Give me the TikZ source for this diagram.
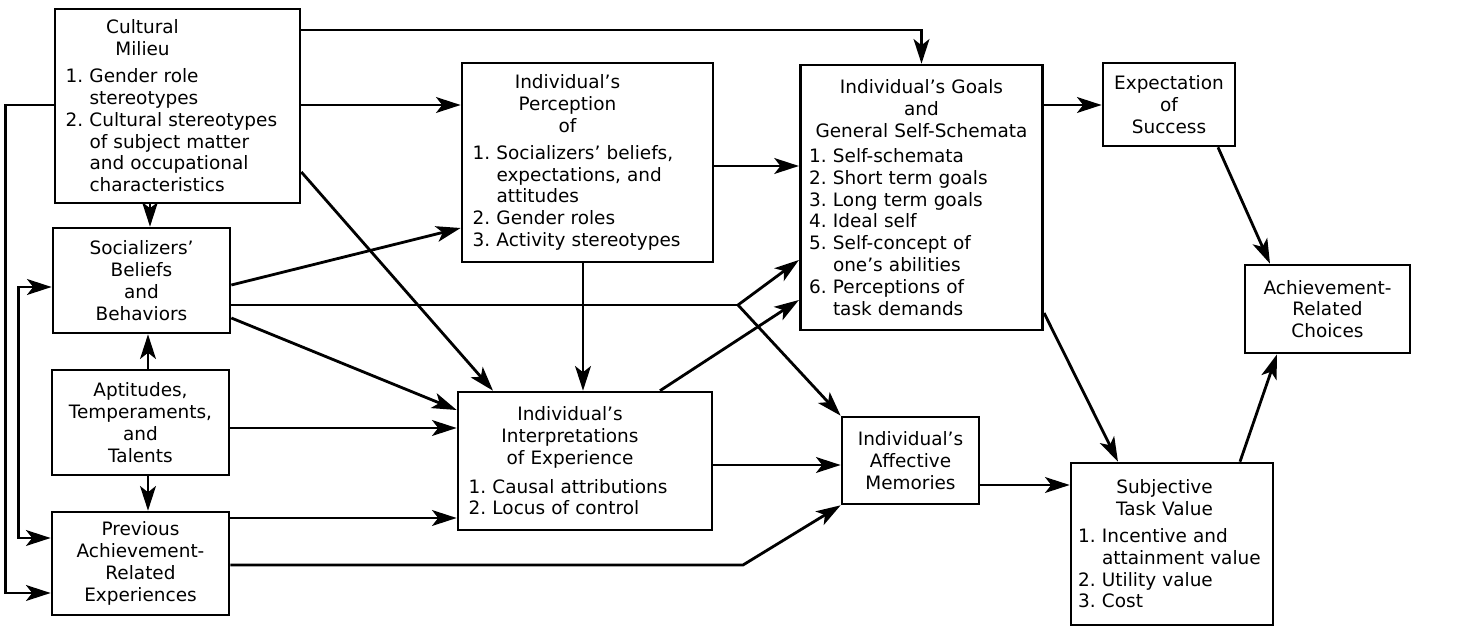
\documentclass[tikz,border=0pt]{standalone}
\usepackage{fontspec}
\setmainfont{DejaVu Sans}
\usetikzlibrary{positioning,arrows.meta}
\setlength{\parindent}{0pt}

\newcommand{\itm}[1]{\makebox[1.3em][l]{#1}}
\newcommand{\cont}{\hspace*{1.3em}}
% title lines, centred but pulled left by the given skip
\newcommand{\ttl}[2]{{\centering\rightskip=#1 plus 1fil #2\par}}

\begin{document}
\begin{tikzpicture}[
  x=0.02cm, y=-0.02cm,
  font=\fontsize{10.5}{12.4}\selectfont,
  box/.style = {
    rectangle, draw=black, line width=1.5pt,
    inner xsep=6pt, inner ysep=3pt, align=center,
  },
  listbox/.style = {box, align=left},
  arrow/.style = {-{Stealth[length=14pt,width=9pt,inset=3.5pt]}, line width=1.6pt},
  twoway/.style = {{Stealth[length=14pt,width=9pt,inset=3.5pt]}-{Stealth[length=14pt,width=9pt,inset=3.5pt]}, line width=1.6pt},
]
  \useasboundingbox (0,0) rectangle (1461,628);

  % left column
  \node[listbox, text width=4.48cm, minimum height=3.88cm] (cm) at (177.5,106)
    {\ttl{1.4cm}{Cultural\\Milieu}\vspace{3pt}
     \itm{1.}Gender role\\\cont stereotypes\\
     \itm{2.}Cultural stereotypes\\\cont of subject matter\\\cont and occupational\\\cont characteristics};
  \node[box, text width=3.12cm, minimum height=2.1cm] (sb) at (141.5,280.5)
    {Socializers'\\Beliefs\\and\\Behaviors};
  \node[box, text width=3.12cm, minimum height=2.1cm] (apt) at (140.5,422.5)
    {Aptitudes,\\Temperaments,\\and\\Talents};
  \node[box, text width=3.12cm, minimum height=2.06cm] (prev) at (140.5,563.5)
    {Previous\\Achievement-\\Related\\Experiences};

  % middle
  \node[listbox, text width=4.6cm, minimum height=3.98cm] (perc) at (587.5,162.5)
    {\ttl{0.8cm}{Individual's\\Perception\\of}\vspace{3pt}
     \itm{1.}Socializers' beliefs,\\\cont expectations, and\\\cont attitudes\\
     \itm{2.}Gender roles\\\itm{3.}Activity stereotypes};
  \node[listbox, text width=4.66cm, minimum height=2.76cm] (interp) at (585,461)
    {\ttl{0.6cm}{Individual's\\Interpretations\\of Experience}\vspace{4pt}
     \itm{1.}Causal attributions\\\itm{2.}Locus of control};
  \node[listbox, text width=4.5cm, inner xsep=5pt, minimum height=5.3cm] (goals) at (921.5,197.5)
    {\ttl{0pt}{Individual's Goals\\and\\General Self-Schemata}\vspace{2pt}
     \itm{1.}Self-schemata\\\itm{2.}Short term goals\\\itm{3.}Long term goals\\
     \itm{4.}Ideal self\\\itm{5.}Self-concept of\\\cont one's abilities\\
     \itm{6.}Perceptions of\\\cont task demands};
  \node[box, text width=2.32cm, minimum height=1.74cm] (aff) at (910.5,460.5)
    {Individual's\\Affective\\Memories};

  % right
  \node[box, text width=2.22cm, minimum height=1.66cm] (exp) at (1169,104.5)
    {Expectation\\of\\Success};
  \node[box, text width=2.88cm, minimum height=1.76cm] (ach) at (1327.5,309)
    {Achievement-\\Related\\Choices};
  \node[listbox, text width=3.76cm, inner xsep=4pt, minimum height=3.24cm] (stv) at (1172,544)
    {\ttl{0.3cm}{Subjective\\Task Value}\vspace{3pt}
     \itm{1.}Incentive and\\\cont attainment value\\\itm{2.}Utility value\\\itm{3.}Cost};

  \coordinate (fork) at (738,305);
  \coordinate (bend) at (743,565);

  \draw[arrow] (cm.east |- 0,30) -| (goals.north);
  \draw[arrow] (cm.east |- 0,105) -- (perc.west |- 0,105);
  \draw[arrow] (cm.east |- 0,172) -- (interp.north -| 493,0);
  \draw[arrow] (cm.south -| 150,0) -- (sb.north -| 150,0);
  \draw[arrow] (cm.west |- 0,105) -- ++(-48,0) |- (prev.west |- 0,593);

  \draw[twoway] (sb.west |- 0,287) -- ++(-33,0) |- (prev.west |- 0,538);
  \draw[arrow] (sb.east |- 0,285) -- (perc.west |- 0,228);
  \draw[line width=1.6pt] (sb.east |- 0,305) -- (fork);
  \draw[arrow] (fork) -- (goals.west |- 0,260);
  \draw[arrow] (fork) -- (aff.north west);
  \draw[arrow] (sb.east |- 0,318) -- (interp.west |- 0,410);

  \draw[arrow] (apt.north -| 148,0) -- (sb.south -| 148,0);
  \draw[arrow] (apt.south -| 148,0) -- (prev.north -| 148,0);
  \draw[arrow] (apt.east |- 0,428) -- (interp.west |- 0,428);
  \draw[arrow] (prev.east |- 0,518) -- (interp.west |- 0,518);
  \draw[arrow] (prev.east |- 0,565) -- (bend) -- (aff.south west);

  \draw[arrow] (perc.south -| 583,0) -- (interp.north -| 583,0);
  \draw[arrow] (perc.east |- 0,166) -- (goals.west |- 0,166);
  \draw[arrow] (interp.east |- 0,465) -- (aff.west |- 0,465);
  \draw[arrow] (interp.north -| 660,0) -- (goals.west |- 0,300);

  \draw[arrow] (goals.east |- 0,105) -- (exp.west |- 0,105);
  \draw[arrow] (goals.east |- 0,313) -- (stv.north -| 1118,0);
  \draw[arrow] (exp.south -| 1218,0) -- (ach.north -| 1270,0);
  \draw[arrow] (aff.east |- 0,485) -- (stv.west |- 0,485);
  \draw[arrow] (stv.north -| 1240,0) -- (ach.south -| 1277,0);
\end{tikzpicture}
\end{document}
